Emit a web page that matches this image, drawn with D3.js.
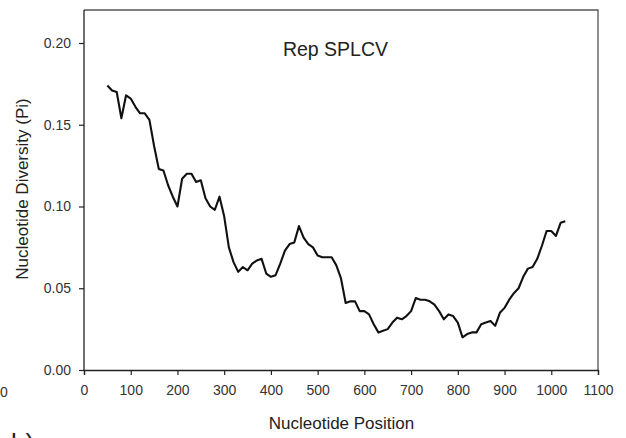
<!DOCTYPE html>
<html>
<head>
<meta charset="utf-8">
<script src="https://cdn.jsdelivr.net/npm/d3@7"></script>
<style>
  html, body { margin: 0; padding: 0; background: #fff; }
  svg { display: block; font-family: "Liberation Sans", Arial, sans-serif; }
</style>
</head>
<body>
<svg id="chart" width="626" height="438"></svg>
<script>
const positions = [50,60,70,80,90,100,110,120,130,140,150,160,170,180,190,200,210,220,230,240,250,260,270,280,290,300,310,320,330,340,350,360,370,380,390,400,410,420,430,440,450,460,470,480,490,500,510,520,530,540,550,560,570,580,590,600,610,620,630,640,650,660,670,680,690,700,710,720,730,740,750,760,770,780,790,800,810,820,830,840,850,860,870,880,890,900,910,920,930,940,950,960,970,980,990,1000,1010,1020,1030];
const piValues = [0.174,0.171,0.170,0.154,0.168,0.166,0.161,0.157,0.157,0.153,0.137,0.123,0.122,0.113,0.106,0.100,0.117,0.120,0.120,0.115,0.116,0.105,0.100,0.098,0.106,0.094,0.075,0.066,0.060,0.063,0.061,0.065,0.067,0.068,0.059,0.057,0.058,0.065,0.073,0.077,0.078,0.088,0.081,0.077,0.075,0.070,0.069,0.069,0.069,0.064,0.056,0.041,0.042,0.042,0.036,0.036,0.034,0.028,0.023,0.024,0.025,0.029,0.032,0.031,0.033,0.036,0.044,0.043,0.043,0.042,0.040,0.036,0.031,0.034,0.033,0.029,0.020,0.022,0.023,0.023,0.028,0.029,0.030,0.027,0.035,0.038,0.043,0.047,0.050,0.057,0.062,0.063,0.068,0.076,0.085,0.085,0.082,0.090,0.091];
const xTicks = [0,100,200,300,400,500,600,700,800,900,1000,1100];
const yTicks = [0.00,0.05,0.10,0.15,0.20];
const title = "Rep SPLCV";
const xLabel = "Nucleotide Position";
const yLabel = "Nucleotide Diversity (Pi)";

const svg = d3.select("#chart");
const mLeft = 84, mRight = 598, mTop = 10, mBottom = 370;

const x = d3.scaleLinear().domain([0, 1100]).range([mLeft, mRight]);
const y = d3.scaleLinear().domain([0, 0.20]).range([mBottom, 43]);

// frame (top and right)
svg.append("path")
  .attr("d", `M${mLeft},${mTop}H${mRight}V${mBottom}`)
  .attr("fill", "none").attr("stroke", "#555").attr("stroke-width", 1.3);

const xAxis = svg.append("g").attr("transform", `translate(0,${mBottom})`)
  .call(d3.axisBottom(x).tickValues(xTicks).tickFormat(d3.format("d")).tickSizeOuter(0).tickSize(5).tickPadding(10));
const yAxis = svg.append("g").attr("transform", `translate(${mLeft},0)`)
  .call(d3.axisLeft(y).tickValues(yTicks).tickFormat(d3.format(".2f")).tickSizeOuter(0).tickSize(5).tickPadding(8));

[xAxis, yAxis].forEach(g => {
  g.select(".domain").attr("stroke", "#222").attr("stroke-width", 1.3);
  g.selectAll(".tick line").attr("stroke", "#222").attr("stroke-width", 1.2);
  g.selectAll(".tick text").attr("fill", "#333").style("font-size", "14px").style("font-family", "Liberation Sans, Arial, sans-serif");
});
// extend y axis line to the top frame
yAxis.select(".domain").attr("d", `M0,${mTop}V${mBottom}`);

const line = d3.line().x((d, i) => x(positions[i])).y(d => y(d));
svg.append("path").datum(piValues)
  .attr("d", line)
  .attr("fill", "none").attr("stroke", "#111").attr("stroke-width", 2.1).attr("stroke-linejoin", "round");

svg.append("text").attr("x", 335.5).attr("y", 56).attr("text-anchor", "middle")
  .attr("fill", "#222").style("font-size", "19.5px").text(title);

svg.append("text").attr("x", 341.5).attr("y", 429).attr("text-anchor", "middle")
  .attr("fill", "#222").style("font-size", "17px").text(xLabel);

svg.append("text").attr("transform", "translate(28,189) rotate(-90)").attr("text-anchor", "middle")
  .attr("fill", "#222").style("font-size", "17px").text(yLabel);

// stray marks from neighbouring panels
svg.append("text").attr("x", 0).attr("y", 397).attr("fill", "#333").style("font-size", "14px").text("0");
svg.append("text").attr("x", 11).attr("y", 452).attr("fill", "#222").style("font-size", "26px").text("b)");
</script>
</body>
</html>
